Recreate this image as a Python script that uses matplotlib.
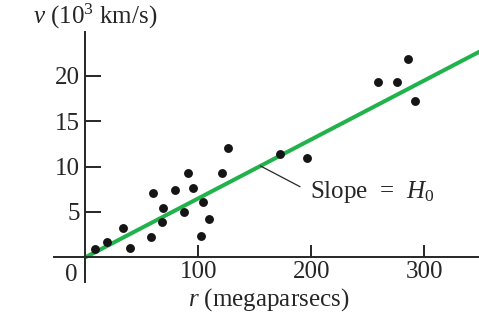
import matplotlib
matplotlib.use("Agg")
import matplotlib.pyplot as plt
import numpy as np

# Galaxy distances (megaparsecs) and recession velocities (10^3 km/s)
distance = [8.6, 19.5, 33.6, 39.6, 58.4, 59.6, 67.6, 69.0, 79.4, 87.3, 90.6,
            95.6, 104.4, 102.1, 109.7, 121.0, 126.5, 172.3, 195.9, 259.3,
            275.6, 285.8, 291.8]
velocity = [0.9, 1.7, 3.2, 1.05, 2.2, 7.05, 3.85, 5.45, 7.4, 5.05, 9.25,
            7.6, 6.05, 2.35, 4.2, 9.35, 12.0, 11.4, 10.9, 19.3,
            19.35, 21.9, 17.25]

# Fitted Hubble constant, (10^3 km/s) per megaparsec
hubble_slope = 0.065
fit_range = [0, 352]

x_ticks = [100, 200, 300]
y_ticks = [5, 10, 15, 20]

plt.rcParams["font.family"] = ["Liberation Serif", "DejaVu Serif"]
plt.rcParams["mathtext.fontset"] = "custom"
plt.rcParams["mathtext.rm"] = "Liberation Serif"
plt.rcParams["mathtext.it"] = "Liberation Serif:italic"

ink = "#262626"
green = "#22b24c"
fs = 18

fig = plt.figure(figsize=(4.79, 3.24), dpi=100)
ax = fig.add_axes([0, 0, 1, 1])
ax.set_xlim(-75.5, 348.4)
ax.set_ylim(-7.35, 28.37)
ax.patch.set_visible(False)

for side in ("top", "right"):
    ax.spines[side].set_visible(False)
ax.spines["left"].set_position(("data", 0))
ax.spines["bottom"].set_position(("data", 0))
ax.spines["left"].set_bounds(-2.7, 24.85)
ax.spines["bottom"].set_bounds(-27.7, 348.4)
for side in ("left", "bottom"):
    ax.spines[side].set_color(ink)
    ax.spines[side].set_linewidth(1.4)

ax.set_xticks(x_ticks)
ax.set_yticks(y_ticks)
ax.set_xticklabels([str(t) for t in x_ticks])
ax.set_yticklabels([str(t) for t in y_ticks])
ax.tick_params(axis="x", direction="in", length=8.6, width=1.4, color=ink,
               labelsize=fs, labelcolor=ink, pad=3)
ax.tick_params(axis="y", direction="in", length=11.5, width=1.4, color=ink,
               labelsize=fs, labelcolor=ink, pad=4)

# Shared origin label
ax.annotate("0", xy=(0, 0), xytext=(-10, -13), textcoords="offset points",
            ha="center", va="center", fontsize=fs, color=ink)

# Hubble law line
fit_x = np.array(fit_range, dtype=float)
ax.plot(fit_x, hubble_slope * fit_x, color=green, lw=2.9,
        solid_capstyle="butt", zorder=2)

# Galaxies
ax.plot(distance, velocity, "o", color="#151515", ms=6.4, mec="none", zorder=3)

# Slope label with leader line
anchor_r = 155
ax.annotate(r"Slope  =  $H_0$", xy=(anchor_r, hubble_slope * anchor_r),
            xytext=(199, 7.2), ha="left", va="center", fontsize=fs,
            color=ink,
            arrowprops=dict(arrowstyle="-", color=ink, lw=0.9,
                            shrinkA=6, shrinkB=0, relpos=(0, 0.5)))

fig.text(269 / 479, 1 - 300 / 324, r"$r$ (megaparsecs)", ha="center",
         va="center", fontsize=fs, color=ink)
fig.text(33 / 479, 1 - 16 / 324, r"$v$ (10$^{3}$ km/s)", ha="left",
         va="center", fontsize=fs, color=ink)

fig.savefig("out.png", dpi=100)
